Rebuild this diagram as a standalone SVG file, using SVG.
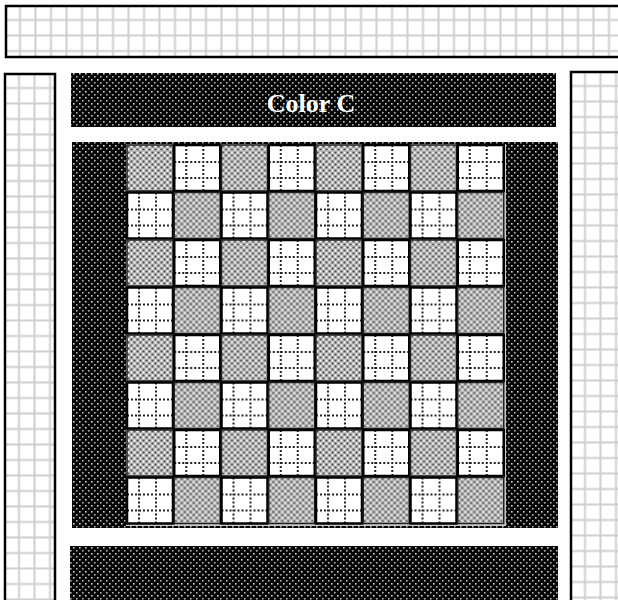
<svg xmlns="http://www.w3.org/2000/svg" width="618" height="600" viewBox="0 0 618 600">
<style>
.panel{fill:url(#grid);stroke:#000;stroke-width:2.5}
.dark{fill:url(#dots)}
.g{fill:url(#hatch);stroke:#222;stroke-width:1.5}
.w{fill:url(#dotgrid);stroke:#000;stroke-width:2.5}
.lbl{font-family:"Liberation Serif","Times New Roman",serif;font-weight:bold;font-size:26px;fill:#fff;text-anchor:middle}
</style>
<defs>
<pattern id="grid" patternUnits="userSpaceOnUse" width="15.5" height="15.5">
<rect width="15.5" height="15.5" fill="#fff"/>
<rect x="13" y="0" width="2" height="15.5" fill="#cfcfcf"/>
<rect x="0" y="13" width="15.5" height="2" fill="#cfcfcf"/>
</pattern>
<pattern id="dots" patternUnits="userSpaceOnUse" width="6" height="6">
<rect width="6" height="6" fill="#050505"/>
<rect x="1" y="1" width="1.6" height="1.6" fill="#d0d0d0"/>
<rect x="4" y="4" width="1.6" height="1.6" fill="#b0b0b0"/>
</pattern>
<pattern id="hatch" patternUnits="userSpaceOnUse" width="6" height="6">
<rect width="6" height="6" fill="#b8b8b8"/>
<circle cx="1.5" cy="1.5" r="1.1" fill="#4a4a4a"/>
<circle cx="4.5" cy="4.5" r="1.1" fill="#4a4a4a"/>
<circle cx="4.5" cy="1.5" r="1" fill="#fff"/>
<circle cx="1.5" cy="4.5" r="1" fill="#fff"/>
</pattern>
<pattern id="dotgrid" patternUnits="userSpaceOnUse" width="46" height="46">
<rect width="46" height="46" fill="#fff"/>
<line x1="12" y1="0" x2="12" y2="46" stroke="#222" stroke-width="2" stroke-dasharray="2 2"/>
<line x1="29" y1="0" x2="29" y2="46" stroke="#222" stroke-width="2" stroke-dasharray="2 2"/>
<line x1="0" y1="17" x2="46" y2="17" stroke="#222" stroke-width="2" stroke-dasharray="2 2"/>
<line x1="0" y1="33" x2="46" y2="33" stroke="#222" stroke-width="2" stroke-dasharray="2 2"/>
</pattern>
</defs>
<rect width="618" height="600" fill="#fff"/>
<g id="top-panel" transform="translate(6,6)"><rect class="panel" x="0" y="0" width="630" height="51"/></g>
<g id="left-panel" transform="translate(5,74)"><rect class="panel" x="0" y="0" width="50" height="540"/></g>
<g id="right-panel" transform="translate(571,72)"><rect class="panel" x="0" y="0" width="60" height="540"/></g>
<g id="header"><rect class="dark" x="71" y="73" width="485" height="54"/><text class="lbl" x="311" y="112">Color C</text></g>
<g id="footer"><rect class="dark" x="70" y="546" width="488" height="60"/></g>
<g id="board">
<rect class="dark" x="72" y="142" width="486" height="386"/>
<rect x="126" y="144" width="380" height="382" fill="#c8c8c8"/>
<g id="cells">
<g transform="translate(127,145)"><rect class="g" width="46" height="46"/></g>
<g transform="translate(174.25,145)"><rect class="w" width="46" height="46"/></g>
<g transform="translate(221.5,145)"><rect class="g" width="46" height="46"/></g>
<g transform="translate(268.75,145)"><rect class="w" width="46" height="46"/></g>
<g transform="translate(316,145)"><rect class="g" width="46" height="46"/></g>
<g transform="translate(363.25,145)"><rect class="w" width="46" height="46"/></g>
<g transform="translate(410.5,145)"><rect class="g" width="46" height="46"/></g>
<g transform="translate(457.75,145)"><rect class="w" width="46" height="46"/></g>

<g transform="translate(127,192.5)"><rect class="w" width="46" height="46"/></g>
<g transform="translate(174.25,192.5)"><rect class="g" width="46" height="46"/></g>
<g transform="translate(221.5,192.5)"><rect class="w" width="46" height="46"/></g>
<g transform="translate(268.75,192.5)"><rect class="g" width="46" height="46"/></g>
<g transform="translate(316,192.5)"><rect class="w" width="46" height="46"/></g>
<g transform="translate(363.25,192.5)"><rect class="g" width="46" height="46"/></g>
<g transform="translate(410.5,192.5)"><rect class="w" width="46" height="46"/></g>
<g transform="translate(457.75,192.5)"><rect class="g" width="46" height="46"/></g>

<g transform="translate(127,240)"><rect class="g" width="46" height="46"/></g>
<g transform="translate(174.25,240)"><rect class="w" width="46" height="46"/></g>
<g transform="translate(221.5,240)"><rect class="g" width="46" height="46"/></g>
<g transform="translate(268.75,240)"><rect class="w" width="46" height="46"/></g>
<g transform="translate(316,240)"><rect class="g" width="46" height="46"/></g>
<g transform="translate(363.25,240)"><rect class="w" width="46" height="46"/></g>
<g transform="translate(410.5,240)"><rect class="g" width="46" height="46"/></g>
<g transform="translate(457.75,240)"><rect class="w" width="46" height="46"/></g>

<g transform="translate(127,287.5)"><rect class="w" width="46" height="46"/></g>
<g transform="translate(174.25,287.5)"><rect class="g" width="46" height="46"/></g>
<g transform="translate(221.5,287.5)"><rect class="w" width="46" height="46"/></g>
<g transform="translate(268.75,287.5)"><rect class="g" width="46" height="46"/></g>
<g transform="translate(316,287.5)"><rect class="w" width="46" height="46"/></g>
<g transform="translate(363.25,287.5)"><rect class="g" width="46" height="46"/></g>
<g transform="translate(410.5,287.5)"><rect class="w" width="46" height="46"/></g>
<g transform="translate(457.75,287.5)"><rect class="g" width="46" height="46"/></g>

<g transform="translate(127,335)"><rect class="g" width="46" height="46"/></g>
<g transform="translate(174.25,335)"><rect class="w" width="46" height="46"/></g>
<g transform="translate(221.5,335)"><rect class="g" width="46" height="46"/></g>
<g transform="translate(268.75,335)"><rect class="w" width="46" height="46"/></g>
<g transform="translate(316,335)"><rect class="g" width="46" height="46"/></g>
<g transform="translate(363.25,335)"><rect class="w" width="46" height="46"/></g>
<g transform="translate(410.5,335)"><rect class="g" width="46" height="46"/></g>
<g transform="translate(457.75,335)"><rect class="w" width="46" height="46"/></g>

<g transform="translate(127,382.5)"><rect class="w" width="46" height="46"/></g>
<g transform="translate(174.25,382.5)"><rect class="g" width="46" height="46"/></g>
<g transform="translate(221.5,382.5)"><rect class="w" width="46" height="46"/></g>
<g transform="translate(268.75,382.5)"><rect class="g" width="46" height="46"/></g>
<g transform="translate(316,382.5)"><rect class="w" width="46" height="46"/></g>
<g transform="translate(363.25,382.5)"><rect class="g" width="46" height="46"/></g>
<g transform="translate(410.5,382.5)"><rect class="w" width="46" height="46"/></g>
<g transform="translate(457.75,382.5)"><rect class="g" width="46" height="46"/></g>

<g transform="translate(127,430)"><rect class="g" width="46" height="46"/></g>
<g transform="translate(174.25,430)"><rect class="w" width="46" height="46"/></g>
<g transform="translate(221.5,430)"><rect class="g" width="46" height="46"/></g>
<g transform="translate(268.75,430)"><rect class="w" width="46" height="46"/></g>
<g transform="translate(316,430)"><rect class="g" width="46" height="46"/></g>
<g transform="translate(363.25,430)"><rect class="w" width="46" height="46"/></g>
<g transform="translate(410.5,430)"><rect class="g" width="46" height="46"/></g>
<g transform="translate(457.75,430)"><rect class="w" width="46" height="46"/></g>

<g transform="translate(127,477.5)"><rect class="w" width="46" height="46"/></g>
<g transform="translate(174.25,477.5)"><rect class="g" width="46" height="46"/></g>
<g transform="translate(221.5,477.5)"><rect class="w" width="46" height="46"/></g>
<g transform="translate(268.75,477.5)"><rect class="g" width="46" height="46"/></g>
<g transform="translate(316,477.5)"><rect class="w" width="46" height="46"/></g>
<g transform="translate(363.25,477.5)"><rect class="g" width="46" height="46"/></g>
<g transform="translate(410.5,477.5)"><rect class="w" width="46" height="46"/></g>
<g transform="translate(457.75,477.5)"><rect class="g" width="46" height="46"/></g>
</g>
</g>
<g id="connectors"/>
</svg>
